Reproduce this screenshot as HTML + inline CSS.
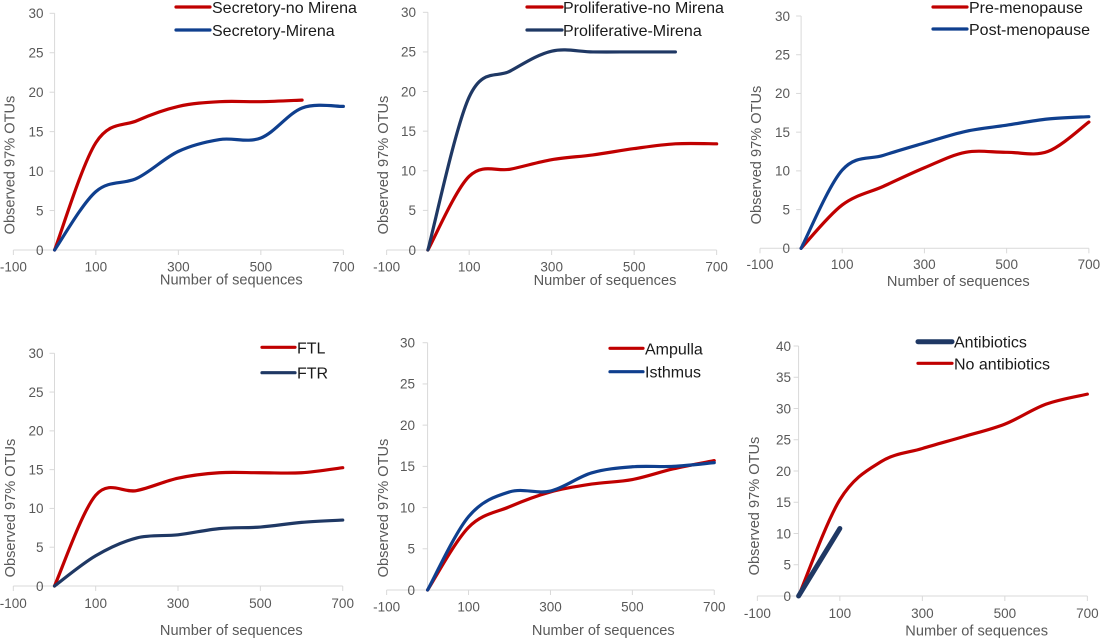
<!DOCTYPE html>
<html>
<head>
<meta charset="utf-8">
<style>
html,body{margin:0;padding:0;background:#fff;}
svg{display:block;}
.tk{font-family:"Liberation Sans",Arial,sans-serif;font-size:13.5px;fill:#595959;}
.ti{font-family:"Liberation Sans",Arial,sans-serif;font-size:14.6px;fill:#595959;}
.lg{font-family:"Liberation Sans",Arial,sans-serif;font-size:16px;fill:#1a1a1a;}
</style>
</head>
<body>
<svg id="s" width="1100" height="638" viewBox="0 0 1100 638" xmlns="http://www.w3.org/2000/svg">
<g id="axes"></g>
<g id="curves"></g>

<!-- Chart 1 -->
<g class="tk" text-anchor="end">
<text x="43.5" y="18.1">30</text><text x="43.5" y="57.6">25</text><text x="43.5" y="97">20</text><text x="43.5" y="136.5">15</text><text x="43.5" y="175.9">10</text><text x="43.5" y="215.4">5</text><text x="43.5" y="254.8">0</text>
</g>
<g class="tk" text-anchor="middle">
<text x="13.4" y="271.5">-100</text><text x="95.9" y="271.5">100</text><text x="178.4" y="271.5">300</text><text x="260.9" y="271.5">500</text><text x="343.4" y="271.5">700</text>
</g>
<text class="ti" x="231.3" y="284.5" text-anchor="middle">Number of sequences</text>
<text class="ti" transform="translate(14.5,165) rotate(-90)" text-anchor="middle">Observed 97% OTUs</text>
<text class="lg" x="212" y="13">Secretory-no Mirena</text>
<text class="lg" x="212" y="36">Secretory-Mirena</text>

<!-- Chart 2 -->
<g class="tk" text-anchor="end">
<text x="416" y="17.1">30</text><text x="416" y="56.7">25</text><text x="416" y="96.3">20</text><text x="416" y="135.9">15</text><text x="416" y="175.6">10</text><text x="416" y="215.2">5</text><text x="416" y="254.8">0</text>
</g>
<g class="tk" text-anchor="middle">
<text x="386.6" y="271.5">-100</text><text x="469.2" y="271.5">100</text><text x="551.7" y="271.5">300</text><text x="634.2" y="271.5">500</text><text x="716.6" y="271.5">700</text>
</g>
<text class="ti" x="605" y="285" text-anchor="middle">Number of sequences</text>
<text class="ti" transform="translate(388,165) rotate(-90)" text-anchor="middle">Observed 97% OTUs</text>
<text class="lg" x="563" y="13">Proliferative-no Mirena</text>
<text class="lg" x="563" y="36">Proliferative-Mirena</text>

<!-- Chart 3 -->
<g class="tk" text-anchor="end">
<text x="790" y="20.8">30</text><text x="790" y="59.5">25</text><text x="790" y="98.2">20</text><text x="790" y="136.9">15</text><text x="790" y="175.6">10</text><text x="790" y="214.3">5</text><text x="790" y="253.1">0</text>
</g>
<g class="tk" text-anchor="middle">
<text x="760" y="269">-100</text><text x="842.2" y="269">100</text><text x="924.4" y="269">300</text><text x="1006.7" y="269">500</text><text x="1088.9" y="269">700</text>
</g>
<text class="ti" x="958.3" y="286" text-anchor="middle">Number of sequences</text>
<text class="ti" transform="translate(761,155) rotate(-90)" text-anchor="middle">Observed 97% OTUs</text>
<text class="lg" x="969" y="13">Pre-menopause</text>
<text class="lg" x="969" y="35">Post-menopause</text>

<!-- Chart 4 -->
<g class="tk" text-anchor="end">
<text x="43.5" y="358.1">30</text><text x="43.5" y="396.9">25</text><text x="43.5" y="435.7">20</text><text x="43.5" y="474.5">15</text><text x="43.5" y="513.2">10</text><text x="43.5" y="552">5</text><text x="43.5" y="590.8">0</text>
</g>
<g class="tk" text-anchor="middle">
<text x="13.3" y="608">-100</text><text x="95.7" y="608">100</text><text x="178" y="608">300</text><text x="260.4" y="608">500</text><text x="342.7" y="608">700</text>
</g>
<text class="ti" x="231.3" y="635" text-anchor="middle">Number of sequences</text>
<text class="ti" transform="translate(15,508) rotate(-90)" text-anchor="middle">Observed 97% OTUs</text>
<text class="lg" x="297" y="353.3">FTL</text>
<text class="lg" x="297" y="378.7">FTR</text>

<!-- Chart 5 -->
<g class="tk" text-anchor="end">
<text x="415" y="347.5">30</text><text x="415" y="388.7">25</text><text x="415" y="429.9">20</text><text x="415" y="471.1">15</text><text x="415" y="512.4">10</text><text x="415" y="553.6">5</text><text x="415" y="594.8">0</text>
</g>
<g class="tk" text-anchor="middle">
<text x="386.7" y="611.7">-100</text><text x="468.6" y="611.7">100</text><text x="550.5" y="611.7">300</text><text x="632.4" y="611.7">500</text><text x="714.3" y="611.7">700</text>
</g>
<text class="ti" x="603.3" y="635" text-anchor="middle">Number of sequences</text>
<text class="ti" transform="translate(388,508) rotate(-90)" text-anchor="middle">Observed 97% OTUs</text>
<text class="lg" x="645" y="354.3">Ampulla</text>
<text class="lg" x="645" y="377.7">Isthmus</text>

<!-- Chart 6 -->
<g class="tk" text-anchor="end">
<text x="791" y="350.8">40</text><text x="791" y="382">35</text><text x="791" y="413.3">30</text><text x="791" y="444.5">25</text><text x="791" y="475.8">20</text><text x="791" y="507">15</text><text x="791" y="538.3">10</text><text x="791" y="569.5">5</text><text x="791" y="600.8">0</text>
</g>
<g class="tk" text-anchor="middle">
<text x="757.4" y="618">-100</text><text x="839.9" y="618">100</text><text x="922.4" y="618">300</text><text x="1004.9" y="618">500</text><text x="1087.4" y="618">700</text>
</g>
<text class="ti" x="976.7" y="635.5" text-anchor="middle">Number of sequences</text>
<text class="ti" transform="translate(759,506) rotate(-90)" text-anchor="middle">Observed 97% OTUs</text>
<text class="lg" x="954" y="347.7">Antibiotics</text>
<text class="lg" x="954" y="369.3">No antibiotics</text>
</svg>

<script>
(function(){
var NS="http://www.w3.org/2000/svg";
var axes=document.getElementById("axes"), curves=document.getElementById("curves");
var RED="#c00000", BLUE="#0f3f8e", NAVY="#1f3864";
function el(tag,attrs,parent){var e=document.createElementNS(NS,tag);for(var k in attrs)e.setAttribute(k,attrs[k]);parent.appendChild(e);return e;}
function smooth(pts){
  var d="M"+pts[0][0].toFixed(2)+","+pts[0][1].toFixed(2);
  for(var i=0;i<pts.length-1;i++){
    var p0=pts[i-1]||pts[i],p1=pts[i],p2=pts[i+1],p3=pts[i+2]||pts[i+1];
    var c1x=p1[0]+(p2[0]-p0[0])/6,c1y=p1[1]+(p2[1]-p0[1])/6;
    var c2x=p2[0]-(p3[0]-p1[0])/6,c2y=p2[1]-(p3[1]-p1[1])/6;
    d+=" C"+c1x.toFixed(2)+","+c1y.toFixed(2)+" "+c2x.toFixed(2)+","+c2y.toFixed(2)+" "+p2[0].toFixed(2)+","+p2[1].toFixed(2);
  }
  return d;
}
function h(vals){return vals.map(function(v,i){return [i*100,v];});}
var charts=[
 {x0:54.6,sx:0.4125,y0:250,sy:7.89,ymax:30,leg:[176,210,7,30],series:[
   {c:RED,w:3.2,d:h([0,13.6,16.4,18.2,18.8,18.8,19.0])},
   {c:BLUE,w:3.2,d:h([0,7.4,9.1,12.5,14.0,14.2,18.0,18.2])}]},
 {x0:427.9,sx:0.4125,y0:250,sy:7.923,ymax:30,leg:[527,562,7,30],series:[
   {c:RED,w:3.2,d:h([0,9.3,10.2,11.4,12.0,12.8,13.4,13.4])},
   {c:NAVY,w:3.2,d:h([0,19.3,22.6,25.1,25.0,25.0,25.0])}]},
 {x0:801.1,sx:0.4111,y0:248.3,sy:7.743,ymax:30,leg:[933,967,7,29],series:[
   {c:RED,w:3.2,d:h([0,5.6,8.0,10.4,12.4,12.4,12.5,16.3])},
   {c:BLUE,w:3.2,d:h([0,10.1,12.0,13.6,15.1,15.9,16.7,17.0])}]},
 {x0:54.5,sx:0.41175,y0:586,sy:7.757,ymax:30,leg:[262,295,347.3,372.7],series:[
   {c:RED,w:3.2,d:h([0,11.7,12.3,13.9,14.6,14.6,14.6,15.25])},
   {c:NAVY,w:3.2,d:h([0,3.9,6.2,6.6,7.4,7.6,8.2,8.5])}]},
 {x0:427.6,sx:0.4095,y0:590,sy:8.243,ymax:30,leg:[610,643,348.3,371.7],series:[
   {c:RED,w:3.2,d:h([0,7.6,10.1,11.9,12.85,13.4,14.7,15.7])},
   {c:BLUE,w:3.2,d:h([0,8.9,11.9,12.0,14.2,14.95,15.0,15.45])}]},
 {x0:798.6,sx:0.4125,y0:596,sy:6.25,ymax:40,leg:[918,952,341.7,363.3],navyFirst:true,series:[
   {c:RED,w:3.2,d:h([0,15.4,21.5,23.6,25.5,27.5,30.7,32.3])},
   {c:NAVY,w:5,d:[[0,0],[100,10.8]],straight:true}]}
];
charts.forEach(function(c){
  var px=function(x){return c.x0+c.sx*x;}, py=function(y){return c.y0-c.sy*y;};
  var ax="#d9d9d9";
  el("line",{x1:px(-100),y1:c.y0,x2:px(700),y2:c.y0,stroke:ax,"stroke-width":1},axes);
  el("line",{x1:c.x0,y1:c.y0,x2:c.x0,y2:py(c.ymax),stroke:ax,"stroke-width":1},axes);
  for(var v=0;v<=c.ymax;v+=5){el("line",{x1:c.x0-5,y1:py(v),x2:c.x0,y2:py(v),stroke:ax,"stroke-width":1},axes);}
  for(var t=-100;t<=700;t+=200){el("line",{x1:px(t),y1:c.y0,x2:px(t),y2:c.y0+5,stroke:ax,"stroke-width":1},axes);}
  c.series.forEach(function(s){
    var pts=s.d.map(function(p){return [px(p[0]),py(p[1])];});
    var d=s.straight?("M"+pts[0][0]+","+pts[0][1]+" L"+pts[1][0]+","+pts[1][1]):smooth(pts);
    el("path",{d:d,fill:"none",stroke:s.c,"stroke-width":s.w,"stroke-linecap":"round","stroke-linejoin":"round"},curves);
  });
  var l=c.leg, first=c.series[0], second=c.series[1];
  if(c.navyFirst){first=c.series[1];second=c.series[0];}
  el("line",{x1:l[0],y1:l[2],x2:l[1],y2:l[2],stroke:first.c,"stroke-width":first.w,"stroke-linecap":"round"},curves);
  el("line",{x1:l[0],y1:l[3],x2:l[1],y2:l[3],stroke:second.c,"stroke-width":second.w,"stroke-linecap":"round"},curves);
});
})();
</script>
</body>
</html>
